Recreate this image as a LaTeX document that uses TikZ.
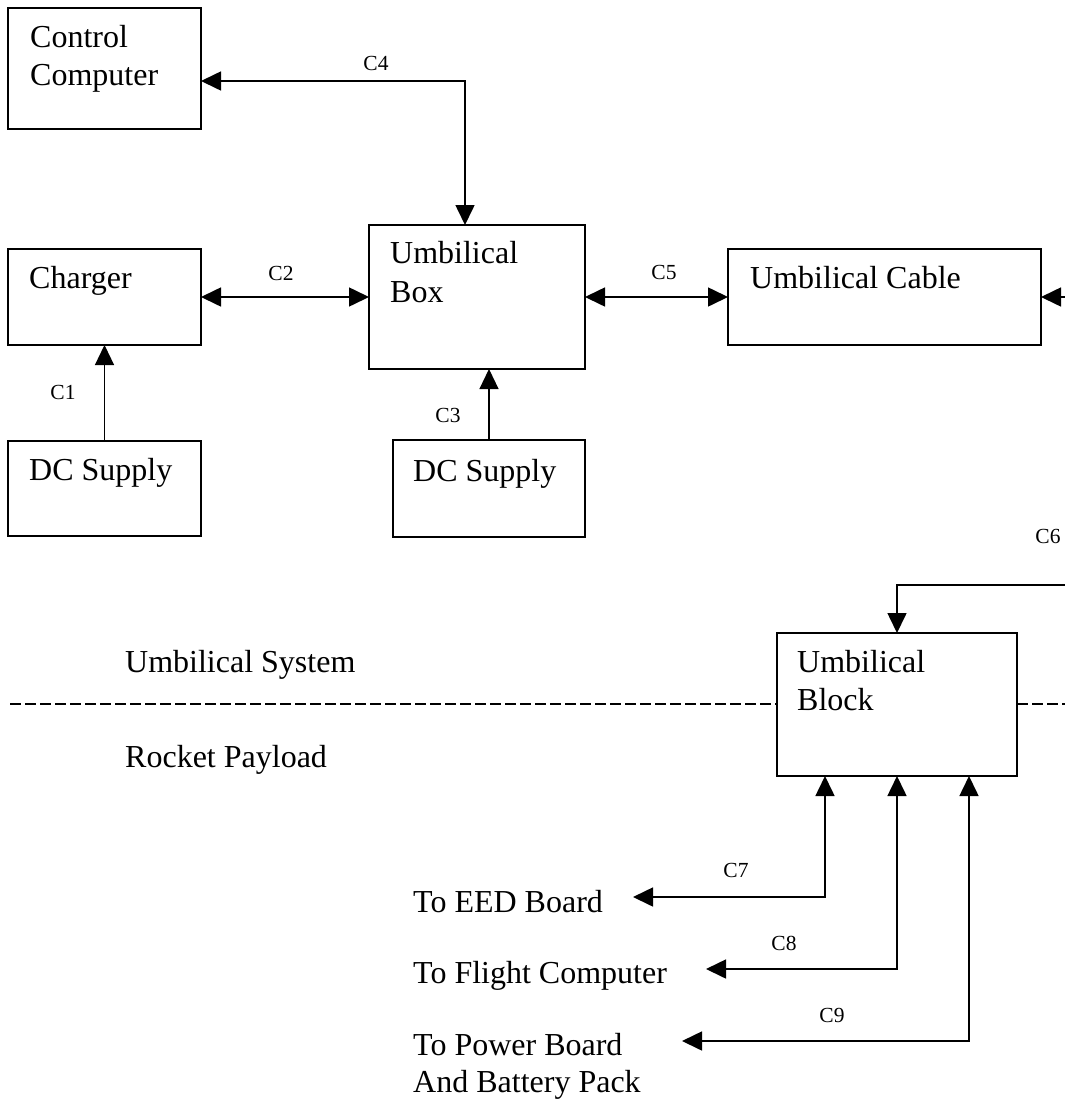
\documentclass[tikz,border=0pt]{standalone}
\usepackage{fontspec}
\setmainfont{Liberation Serif}
\usetikzlibrary{arrows.meta}
\begin{document}
\begin{tikzpicture}[x=1pt,y=-1pt,
  box/.style={draw, line width=1.8pt, anchor=north west, inner sep=0pt, outer sep=0pt},
  txt/.style={anchor=base west, inner sep=0pt, font=\fontsize{32}{38}\selectfont},
  lbl/.style={inner sep=0pt, font=\fontsize{21.5}{24}\selectfont},
  cn/.style={line width=1.6pt},
  thin cn/.style={line width=1.2pt},
  divider/.style={line width=1.3pt, dash pattern=on 11pt off 4pt},
  >={Triangle[length=20pt,width=19pt]}]
\useasboundingbox (0,0) rectangle (1065,1103);
\clip (0,0) rectangle (1065,1103);

% blocks
\node[box, minimum width=193pt, minimum height=121pt] (cc)     at (8,8) {};
\node[box, minimum width=193pt, minimum height=96pt]  (chg)    at (8,249) {};
\node[box, minimum width=193pt, minimum height=95pt]  (dc1)    at (8,441) {};
\node[box, minimum width=216pt, minimum height=144pt] (ubox)   at (369,225) {};
\node[box, minimum width=192pt, minimum height=97pt]  (dc2)    at (393,440) {};
\node[box, minimum width=313pt, minimum height=96pt]  (cable)  at (728,249) {};
\node[box, minimum width=240pt, minimum height=143pt] (ublock) at (777,633) {};

% block texts
\node[txt] (ccA)  at (30,47)  {Control};
\node[txt] (ccB)  at (30,85)  {Computer};
\node[txt] (chgT) at (29,288) {Charger};
\node[txt] (dc1T) at (29,480) {DC Supply};
\node[txt] (ubA)  at (390,263) {Umbilical};
\node[txt] (ubB)  at (390,302) {Box};
\node[txt] (dc2T) at (413,481) {DC Supply};
\node[txt] (cabT) at (750,288) {Umbilical Cable};
\node[txt] (blA)  at (797,672) {Umbilical};
\node[txt] (blB)  at (797,710) {Block};

% system boundary
\node[txt] (sys)  at (125,672) {Umbilical System};
\node[txt] (pay)  at (125,767) {Rocket Payload};
\coordinate (divL) at (10,704);
\coordinate (divR) at (1070,704);
\draw[divider] (divL) -- (ublock.west |- divL);
\draw[divider] (ublock.east |- divL) -- (divR);

% payload destinations
\node[txt] (eed)  at (413,912)  {To EED Board};
\node[txt] (fc)   at (413,983)  {To Flight Computer};
\node[txt] (pbA)  at (413,1055) {To Power Board};
\node[txt] (pbB)  at (413,1092) {And Battery Pack};

% connectors
\draw[cn, <->] (cc.east |- 0,81) -| (ubox.north -| 465,0);
\draw[cn, <->] (chg.east) -- (ubox.west |- chg.east);
\draw[cn, <->] (ubox.east |- cable.west) -- (cable.west);
\draw[thin cn, ->] (dc1.north) -- (chg.south);
\draw[thin cn, ->] (dc2.north) -- (ubox.south -| dc2.north);

\coordinate (cabIn) at (1090,297);
\draw[cn, ->] (cabIn) -- (cable.east);
\coordinate (c6In) at (1090,585);
\draw[cn, ->] (c6In) -| (ublock.north);

\coordinate (c7end) at (633,897);
\coordinate (c8end) at (706,969);
\coordinate (c9end) at (682,1041);
\draw[cn, <->] (ublock.south -| 825,0) |- (c7end);
\draw[cn, <->] (ublock.south) |- (c8end);
\draw[cn, <->] (ublock.south -| 969,0) |- (c9end);

% connector labels
\node[lbl] (l1) at (63,392)   {C1};
\node[lbl] (l2) at (281,273)  {C2};
\node[lbl] (l3) at (448,415)  {C3};
\node[lbl] (l4) at (376,63)   {C4};
\node[lbl] (l5) at (664,272)  {C5};
\node[lbl] (l6) at (1048,536) {C6};
\node[lbl] (l7) at (736,870)  {C7};
\node[lbl] (l8) at (784,943)  {C8};
\node[lbl] (l9) at (832,1015) {C9};
\end{tikzpicture}
\end{document}
